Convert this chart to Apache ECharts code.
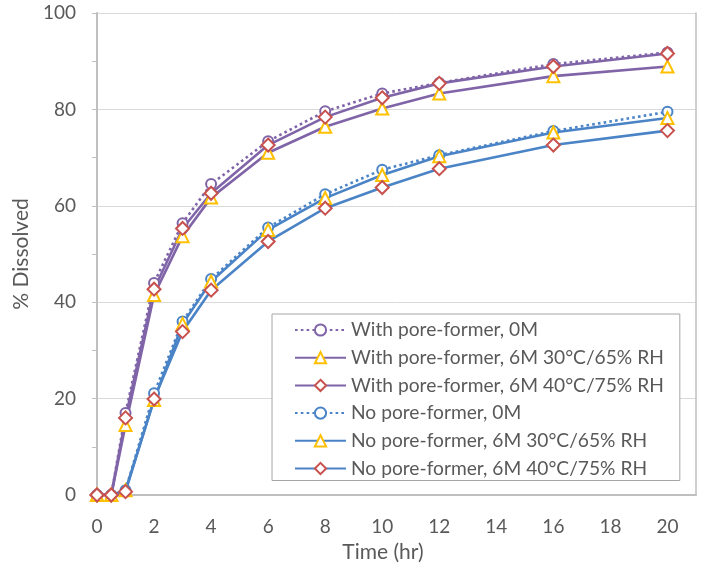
<!DOCTYPE html>
<html>
<head>
<meta charset="utf-8">
<script src="https://cdn.jsdelivr.net/npm/echarts@6/dist/echarts.min.js"></script>
<style>html,body{margin:0;padding:0;background:#fff}#c{width:703px;height:569px}</style>
</head>
<body>
<div id="c"></div>
<script>
const time = [0, 0.5, 1, 2, 3, 4, 6, 8, 10, 12, 16, 20];
const withPF0M   = [0, 0, 17, 44, 56.4, 64.5, 73.4, 79.6, 83.3, 85.5, 89.4, 91.8];
const withPF30   = [0, 0, 14.5, 41.5, 53.7, 61.7, 71, 76.4, 80.2, 83.3, 86.9, 88.9];
const withPF40   = [0, 0, 16, 42.7, 55.3, 62.6, 72.6, 78.4, 82.4, 85.4, 88.9, 91.6];
const noPF0M     = [0, 0, 1, 21.1, 36, 44.8, 55.5, 62.4, 67.5, 70.5, 75.5, 79.5];
const noPF30     = [0, 0, 1, 19.7, 35.5, 44.3, 55, 61.6, 66.4, 70.3, 75.2, 78.2];
const noPF40     = [0, 0, 0.7, 19.9, 33.9, 42.5, 52.6, 59.5, 63.8, 67.7, 72.6, 75.6];
const names = [
  'With pore-former, 0M',
  'With pore-former, 6M 30°C/65% RH',
  'With pore-former, 6M 40°C/75% RH',
  'No pore-former, 0M',
  'No pore-former, 6M 30°C/65% RH',
  'No pore-former, 6M 40°C/75% RH'
];
const xTicks = [0, 2, 4, 6, 8, 10, 12, 14, 16, 18, 20];

const PURPLE = '#8064A8', BLUE = '#4A84C6', GOLD = '#FFC000', RED = '#C8504D';
const FONT = 'Lato';
function pts(arr){ return time.map((t,i)=>[t, arr[i]]); }
function mk(name, arr, lineColor, dotted, symbol, symColor, size){
  return {
    name, type:'line', data: pts(arr),
    symbol, symbolSize: size, showAllSymbol:true,
    lineStyle:{color: lineColor, width: 2.6, type: dotted ? [2.6, 3.2] : 'solid', cap:'butt'},
    itemStyle:{color: symColor, borderColor: symColor, borderWidth: 2},
    emphasis:{disabled:true}, animation:false, z: 2
  };
}
const chart = echarts.init(document.getElementById('c'));
chart.setOption({
  backgroundColor:'#fff',
  animation:false,
  grid:{left:97, top:13, right:7, bottom:74},
  legend:{
    orient:'vertical', left:272, top:314,
    padding:[6, 16, 2, 22], itemGap:7.7, itemWidth:51, itemHeight:14,
    borderColor:'#A6A6A6', borderWidth:1, backgroundColor:'#fff',
    textStyle:{color:'#595959', fontFamily:FONT, fontSize:19.2, lineHeight:20},
    data:names
  },
  xAxis:{
    type:'value', min:0, max:21, interval:2,
    name:'Time (hr)', nameLocation:'middle', nameGap:47,
    nameTextStyle:{color:'#595959', fontFamily:FONT, fontSize:21, padding:[0,27,0,0]},
    axisLine:{show:true, lineStyle:{color:'#BFBFBF', width:2}},
    axisTick:{show:false},
    splitLine:{show:false},
    axisLabel:{color:'#595959', fontFamily:FONT, fontSize:19, margin:22,
      showMaxLabel:false,
      formatter: v => xTicks.includes(v) ? String(v) : ''}
  },
  yAxis:[{
    type:'value', min:0, max:100, interval:20,
    name:'% Dissolved', nameLocation:'middle', nameGap:60,
    nameTextStyle:{color:'#595959', fontFamily:FONT, fontSize:21},
    axisLine:{show:true, lineStyle:{color:'#BFBFBF', width:2}},
    axisTick:{show:true, length:5, lineStyle:{color:'#BFBFBF', width:1}},
    minorTick:{show:true, splitNumber:2, length:5, lineStyle:{color:'#BFBFBF', width:1}},
    splitLine:{show:true, lineStyle:{color:'#D9D9D9', width:1}},
    axisLabel:{color:'#595959', fontFamily:FONT, fontSize:19, margin:21}
  },{
    type:'value', min:0, max:100, position:'right',
    axisLine:{show:true, onZero:false, lineStyle:{color:'#BFBFBF', width:1.5}},
    axisTick:{show:false}, axisLabel:{show:false}, splitLine:{show:false}
  }],
  series:[
    mk(names[0], withPF0M, PURPLE, true,  'emptyCircle',   PURPLE, 10),
    mk(names[1], withPF30, PURPLE, false, 'emptyTriangle', GOLD,   12),
    mk(names[2], withPF40, PURPLE, false, 'emptyDiamond',  RED,    13),
    mk(names[3], noPF0M,   BLUE,   true,  'emptyCircle',   BLUE,   10),
    mk(names[4], noPF30,   BLUE,   false, 'emptyTriangle', GOLD,   12),
    mk(names[5], noPF40,   BLUE,   false, 'emptyDiamond',  RED,    13)
  ]
});
</script>
</body>
</html>
